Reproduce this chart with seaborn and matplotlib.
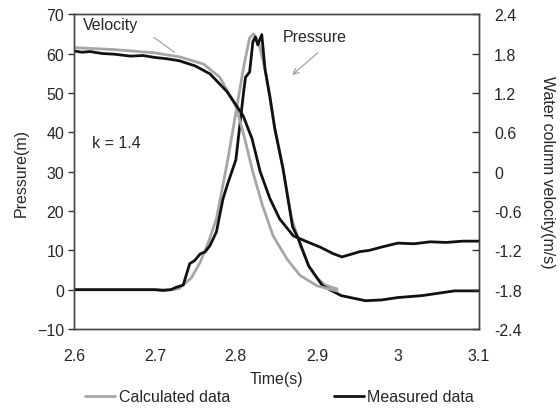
import pandas as pd
import matplotlib
matplotlib.use('Agg')
import matplotlib.pyplot as plt
import seaborn as sns
from matplotlib.lines import Line2D

# calculated pressure (m)
calc_p_t = [2.60, 2.70, 2.72, 2.73, 2.745, 2.756, 2.766, 2.776, 2.79, 2.80, 2.81, 2.817,
            2.822, 2.828, 2.836, 2.842, 2.848, 2.858, 2.869, 2.88, 2.89, 2.90, 2.91, 2.925]
calc_p = [0, 0, 0, 0.3, 3, 7, 12, 18, 33, 45, 57, 64,
          65, 63, 56, 49, 41, 31, 18, 11, 6, 3, 1.2, 0.2]

# measured pressure (m)
meas_p_t = [2.60, 2.65, 2.70, 2.71, 2.72, 2.725, 2.735, 2.743, 2.749, 2.756, 2.762, 2.768,
            2.776, 2.784, 2.79, 2.80, 2.805, 2.81, 2.812, 2.817, 2.821, 2.824, 2.827, 2.832,
            2.836, 2.842, 2.848, 2.858, 2.870, 2.877, 2.89, 2.907, 2.93, 2.96, 2.98, 3.0,
            3.03, 3.05, 3.07, 3.1]
meas_p = [0, 0, 0, -0.2, 0, 0.5, 1.2, 6.6, 7.4, 9.1, 9.6, 11.2,
          14.7, 23, 27, 33, 42, 51, 54, 55.3, 63, 64.2, 62.2, 64.8,
          56, 49, 41, 31, 16, 13, 6, 1, -1.5, -2.8, -2.6, -2.0,
          -1.5, -0.9, -0.3, -0.3]

# calculated velocity (m/s)
calc_v_t = [2.60, 2.65, 2.70, 2.73, 2.76, 2.78, 2.80, 2.811, 2.821, 2.833, 2.846, 2.863,
            2.879, 2.90, 2.925]
calc_v = [1.89, 1.86, 1.81, 1.75, 1.64, 1.44, 1.00, 0.50, -0.01, -0.52, -0.98, -1.33,
          -1.58, -1.74, -1.82]

# measured velocity (m/s)
meas_v_t = [2.60, 2.61, 2.62, 2.635, 2.65, 2.67, 2.685, 2.70, 2.715, 2.73, 2.75, 2.768,
            2.789, 2.809, 2.820, 2.830, 2.842, 2.854, 2.871, 2.888, 2.904, 2.92, 2.931,
            2.945, 2.953, 2.965, 2.98, 3.0, 3.02, 3.04, 3.06, 3.08, 3.1]
meas_v = [1.84, 1.82, 1.83, 1.80, 1.79, 1.76, 1.77, 1.74, 1.72, 1.69, 1.61, 1.49,
          1.22, 0.85, 0.50, 0.00, -0.41, -0.72, -0.98, -1.07, -1.15, -1.25, -1.30,
          -1.25, -1.22, -1.20, -1.15, -1.09, -1.10, -1.07, -1.08, -1.06, -1.06]

gray = '#a6a6a6'
black = '#111111'
fs = 11.5

sns.set_style('white')
plt.rcParams['font.family'] = ['Liberation Sans', 'DejaVu Sans']

fig, ax = plt.subplots(figsize=(5.6, 4.1), dpi=100)
fig.subplots_adjust(left=0.132, right=0.855, top=0.963, bottom=0.195)
ax2 = ax.twinx()

sns.lineplot(x=calc_p_t, y=calc_p, ax=ax, color=gray, lw=2)
sns.lineplot(x=meas_p_t, y=meas_p, ax=ax, color=black, lw=2)
sns.lineplot(x=calc_v_t, y=calc_v, ax=ax2, color=gray, lw=2)
sns.lineplot(x=meas_v_t, y=meas_v, ax=ax2, color=black, lw=2)

ax.set_xlim(2.6, 3.1)
ax.set_ylim(-10, 70)
ax2.set_ylim(-2.4, 2.4)
ax.set_xticks([2.6, 2.7, 2.8, 2.9, 3.0, 3.1])
ax.set_xticklabels(['2.6', '2.7', '2.8', '2.9', '3', '3.1'])
ax.set_yticks(range(-10, 71, 10))
ax2.set_yticks([-2.4, -1.8, -1.2, -0.6, 0, 0.6, 1.2, 1.8, 2.4])
ax2.set_yticklabels(['-2.4', '-1.8', '-1.2', '-0.6', '0', '0.6', '1.2', '1.8', '2.4'])

ax.tick_params(axis='x', length=0, labelsize=fs, pad=13.5)
ax.tick_params(axis='y', direction='out', length=4, width=1, color='#333333', labelsize=fs, pad=3)
ax2.tick_params(axis='y', direction='in', length=5, width=1, color='#333333', labelsize=fs, pad=11)

for a in (ax, ax2):
    for s in a.spines.values():
        s.set_color('#444444')
        s.set_linewidth(1)

ax.set_xlabel('Time(s)', fontsize=fs, labelpad=6)
ax.set_ylabel('Pressure(m)', fontsize=fs, labelpad=6)
ax2.set_ylabel('Water column velocity(m/s)', fontsize=fs, rotation=270, labelpad=24)

ax.text(2.611, 67.3, 'Velocity', fontsize=fs, va='center', ha='left')
ax.annotate('', xy=(2.727, 59.9), xytext=(2.696, 64.5),
            arrowprops=dict(arrowstyle='-', color='#999999', lw=0.8))
ax.text(2.858, 64.2, 'Pressure', fontsize=fs, va='center', ha='left')
ax.annotate('', xy=(2.867, 54.1), xytext=(2.904, 60.7),
            arrowprops=dict(arrowstyle='->', color='#999999', lw=0.8))
ax.text(2.622, 37.3, 'k = 1.4', fontsize=fs, va='center', ha='left')

handles = [Line2D([], [], color=gray, lw=2), Line2D([], [], color=black, lw=2)]
fig.legend(handles, ['Calculated data', 'Measured data'], loc='center',
           bbox_to_anchor=(0.499, 0.03), ncol=2, frameon=False, fontsize=fs,
           handlelength=1.9, handletextpad=0.2, columnspacing=6.5)

fig.savefig('out.png', dpi=100)
